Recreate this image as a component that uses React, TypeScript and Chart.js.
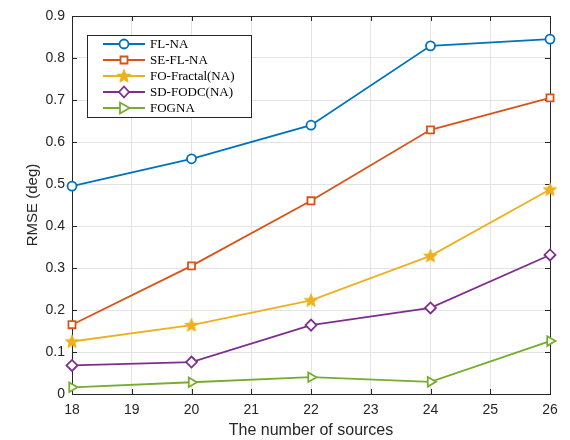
import React, { useEffect, useRef } from "react";
import { Chart, registerables } from "chart.js";

Chart.register(...registerables);

const sources = [18, 20, 22, 24, 26];
const flNA = [0.495, 0.56, 0.64, 0.829, 0.845];
const seFlNA = [0.165, 0.305, 0.46, 0.629, 0.705];
const foFractal = [0.125, 0.164, 0.223, 0.329, 0.487];
const sdFodc = [0.068, 0.076, 0.164, 0.205, 0.331];
const fogna = [0.016, 0.028, 0.04, 0.029, 0.126];
const seriesNames = ["FL-NA", "SE-FL-NA", "FO-Fractal(NA)", "SD-FODC(NA)", "FOGNA"];
const colors = ["#0072BD", "#D95319", "#EDB120", "#7E2F8E", "#77AC30"];

function makeStar(color: string, R: number, r: number) {
  const c = document.createElement("canvas");
  const s = Math.ceil(R * 2 + 4);
  c.width = s;
  c.height = s;
  const g = c.getContext("2d")!;
  g.beginPath();
  for (let i = 0; i < 10; i++) {
    const rad = i % 2 === 0 ? R : r;
    const a = -Math.PI / 2 + (i * Math.PI) / 5;
    g.lineTo(s / 2 + rad * Math.cos(a), s / 2 + 0.5 + rad * Math.sin(a));
  }
  g.closePath();
  g.fillStyle = color;
  g.fill();
  g.strokeStyle = color;
  g.lineWidth = 1;
  g.stroke();
  return c;
}

function drawMarker(ctx: CanvasRenderingContext2D, kind: number, x: number, y: number, color: string, star: HTMLCanvasElement) {
  ctx.save();
  ctx.strokeStyle = color;
  ctx.fillStyle = "#ffffff";
  ctx.lineWidth = 1.8;
  ctx.beginPath();
  if (kind === 0) {
    ctx.arc(x, y, 4.5, 0, Math.PI * 2);
    ctx.fill();
    ctx.stroke();
  } else if (kind === 1) {
    ctx.rect(x - 3.5, y - 3.5, 7, 7);
    ctx.fill();
    ctx.stroke();
  } else if (kind === 2) {
    ctx.drawImage(star, x - star.width / 2, y - star.height / 2);
  } else if (kind === 3) {
    ctx.moveTo(x, y - 5.5);
    ctx.lineTo(x + 5, y);
    ctx.lineTo(x, y + 5.5);
    ctx.lineTo(x - 5, y);
    ctx.closePath();
    ctx.fill();
    ctx.stroke();
  } else {
    ctx.moveTo(x + 5.5, y);
    ctx.lineTo(x - 4, y - 5.5);
    ctx.lineTo(x - 4, y + 5.5);
    ctx.closePath();
    ctx.fill();
    ctx.stroke();
  }
  ctx.restore();
}

export default function App() {
  const ref = useRef<HTMLCanvasElement>(null);
  useEffect(() => {
    if (!ref.current) return;
    const star = makeStar(colors[2], 7, 3);
    const allData = [flNA, seFlNA, foFractal, sdFodc, fogna];
    const styles: any[] = ["circle", "rect", star, "rectRot", "triangle"];
    const radii = [4.5, 5, 7, 5.5, 5.5];

    const frame = {
      id: "frame",
      beforeDatasetsDraw(chart: any) {
        const { ctx, chartArea, scales } = chart;
        const { left, right, top, bottom } = chartArea;
        const xs = scales.x;
        const ys = scales.y;
        ctx.save();
        ctx.strokeStyle = "#262626";
        ctx.lineWidth = 1;
        const tl = 5;
        ctx.beginPath();
        xs.ticks.forEach((t: any) => {
          const px = Math.round(xs.getPixelForValue(t.value)) + 0.5;
          ctx.moveTo(px, bottom);
          ctx.lineTo(px, bottom - tl);
          ctx.moveTo(px, top);
          ctx.lineTo(px, top + tl);
        });
        ys.ticks.forEach((t: any) => {
          const py = Math.round(ys.getPixelForValue(t.value)) + 0.5;
          ctx.moveTo(left, py);
          ctx.lineTo(left + tl, py);
          ctx.moveTo(right, py);
          ctx.lineTo(right - tl, py);
        });
        ctx.stroke();
        ctx.strokeRect(left + 0.5, top + 0.5, right - left, bottom - top);
        ctx.restore();
      },
      afterDraw(chart: any) {
        const ctx: CanvasRenderingContext2D = chart.ctx;
        const bx = 87, by = 35, bw = 164, bh = 82;
        ctx.save();
        ctx.fillStyle = "#ffffff";
        ctx.fillRect(bx, by, bw, bh);
        ctx.strokeStyle = "#262626";
        ctx.lineWidth = 1;
        ctx.strokeRect(bx + 0.5, by + 0.5, bw, bh);
        ctx.font = "13px 'Liberation Serif', 'Times New Roman', serif";
        ctx.textBaseline = "middle";
        ctx.textAlign = "left";
        seriesNames.forEach((name, i) => {
          const yy = 44 + i * 16;
          ctx.strokeStyle = colors[i];
          ctx.lineWidth = 1.8;
          ctx.beginPath();
          ctx.moveTo(103, yy);
          ctx.lineTo(145, yy);
          ctx.stroke();
          drawMarker(ctx, i, 124, yy, colors[i], star);
          ctx.fillStyle = "#000000";
          ctx.fillText(name, 150, yy + 1);
        });
        ctx.restore();
      },
    };

    const chart = new Chart(ref.current, {
      type: "line",
      data: {
        datasets: allData.map((d, i) => ({
          label: seriesNames[i],
          data: d.map((v, j) => ({ x: sources[j], y: v })),
          borderColor: colors[i],
          backgroundColor: colors[i],
          borderWidth: 1.8,
          pointStyle: styles[i],
          pointRadius: radii[i],
          pointHoverRadius: radii[i],
          pointBorderWidth: 1.8,
          pointBorderColor: colors[i],
          pointBackgroundColor: "#ffffff",
          pointRotation: i === 4 ? 90 : 0,
          tension: 0,
          clip: false as any,
        })),
      },
      options: {
        animation: false,
        responsive: false,
        layout: { padding: { top: 16, right: 20, left: 0, bottom: 0 } },
        plugins: { legend: { display: false }, tooltip: { enabled: false } },
        scales: {
          x: {
            type: "linear",
            min: 18,
            max: 26,
            afterFit: (s: any) => {
              s.height = 46;
            },
            ticks: {
              stepSize: 1,
              padding: 8,
              color: "#262626",
              font: { family: "'Liberation Sans', Arial, sans-serif", size: 14 },
            },
            grid: { color: "#e3e3e3", drawTicks: false },
            border: { display: false },
            title: {
              display: true,
              text: "The number of sources",
              color: "#262626",
              font: { family: "'Liberation Sans', Arial, sans-serif", size: 16 },
              padding: { top: 0, bottom: 0 },
            },
          },
          y: {
            type: "linear",
            min: 0,
            max: 0.9,
            afterFit: (s: any) => {
              s.width = 72;
            },
            ticks: {
              stepSize: 0.1,
              padding: 7,
              color: "#262626",
              font: { family: "'Liberation Sans', Arial, sans-serif", size: 14 },
              callback: (v: any) => String(Math.round(Number(v) * 10) / 10),
            },
            grid: { color: "#e3e3e3", drawTicks: false },
            border: { display: false },
            title: {
              display: true,
              text: "RMSE (deg)",
              color: "#262626",
              font: { family: "'Liberation Sans', Arial, sans-serif", size: 15 },
              padding: { top: 24, bottom: 0 },
            },
          },
        },
      },
      plugins: [frame],
    });
    return () => chart.destroy();
  }, []);
  return (
    <div style={{ position: "fixed", left: 0, top: 0, width: 570, height: 440, background: "#ffffff" }}>
      <canvas ref={ref} width={570} height={440} style={{ display: "block", width: 570, height: 440 }} />
    </div>
  );
}
